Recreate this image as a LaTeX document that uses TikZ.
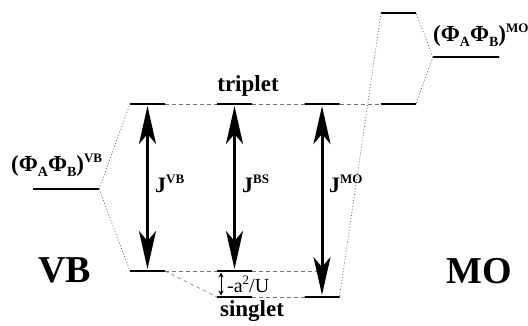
\documentclass[tikz,border=0pt]{standalone}
\usepackage{fontspec}
\setmainfont{Liberation Serif}
\usetikzlibrary{arrows.meta,positioning,calc}

\newcommand{\upidx}[1]{\raisebox{0.8ex}{\fontsize{13}{13}\selectfont #1}}
\newcommand{\dnidx}[1]{\raisebox{-0.5ex}{\fontsize{14}{14}\selectfont #1}}

\begin{document}
\begin{tikzpicture}[
    x=1pt, y=-1pt,
    font=\bfseries,
    lvl/.style={draw, line width=2pt, minimum width=35pt, minimum height=0pt,
        inner sep=0pt, outer sep=0pt},
    dashln/.style={draw=black!55, line width=0.6pt, dash pattern=on 4pt off 3pt},
    dotln/.style={draw=black!60, line width=0.7pt, dash pattern=on 1pt off 2pt},
    jarrow/.style={line width=3pt,
        {Stealth[length=38pt,width=17pt,inset=10pt]}-{Stealth[length=38pt,width=17pt,inset=10pt]},
        shorten <=2pt, shorten >=2pt},
    smallarr/.style={line width=0.9pt,
        {Stealth[length=5pt,width=5pt]}-{Stealth[length=5pt,width=5pt]},
        shorten <=1.5pt, shorten >=1.5pt},
    lbl/.style={inner sep=0pt, anchor=base west},
]
\useasboundingbox (0,0) rectangle (528,325);

% energy levels
\node[lvl, minimum width=66pt] (phivb) at (66,189) {};
\node[lvl] (vbT) at (147.5,104) {};
\node[lvl] (vbS) at (147.5,271) {};
\node[lvl] (bsT) at (234.5,104) {};
\node[lvl] (bsSa) at (234.5,271) {};
\node[lvl] (bsSb) at (234.5,297) {};
\node[lvl] (moT) at (322,104) {};
\node[lvl] (moS) at (322,297) {};
\node[lvl] (moA) at (398.5,13) {};
\node[lvl] (moB) at (398.5,104) {};
\node[lvl, minimum width=66pt] (phimo) at (466,57) {};

% correlation lines
\draw[dashln] (vbT.east) -- (bsT.west);
\draw[dashln] (bsT.east) -- (moT.west);
\draw[dashln] (moT.east) -- (moB.west);
\draw[dashln] (vbS.east) -- (bsSa.west);
\draw[dashln] (bsSa.east) -- (bsSa.east -| moS);
\draw[dashln] (vbS.east) -- (bsSb.west);
\draw[dashln] (bsSb.east) -- (moS.west);
\draw[dotln] (phivb.east) -- (vbT.west);
\draw[dotln] (phivb.east) -- (vbS.west);
\draw[dotln] (phimo.west) -- (moA.east);
\draw[dotln] (phimo.west) -- (moB.east);
\draw[dotln] (moA.west) -- (moS.east);

% exchange couplings
\draw[jarrow] (vbT) -- (vbS);
\draw[jarrow] (bsT) -- (bsSa);
\draw[jarrow] (moT) -- (moS);
\draw[smallarr] ([xshift=4pt]bsSa.west) -- ([xshift=4pt]bsSb.west);

% labels
\node[lbl, font=\bfseries\fontsize{22}{22}\selectfont] (jvb) at (155,192) {J\upidx{VB}};
\node[lbl, font=\bfseries\fontsize{22}{22}\selectfont] (jbs) at (242,192) {J\upidx{BS}};
\node[lbl, font=\bfseries\fontsize{22}{22}\selectfont] (jmo) at (329,192) {J\upidx{MO}};
\node[lbl, font=\fontsize{20}{20}\selectfont] (gap) at (227,292) {-a\upidx{2}/U};
\node[anchor=base, inner sep=0pt, font=\bfseries\fontsize{23}{23}\selectfont] (trip) at (248,91) {triplet};
\node[anchor=base, inner sep=0pt, font=\bfseries\fontsize{23}{23}\selectfont] (sing) at (252,316) {singlet};
\node[lbl, font=\bfseries\fontsize{23}{23}\selectfont] (phivbl) at (11,171) {(Φ\dnidx{A}Φ\dnidx{B})\upidx{VB}};
\node[lbl, font=\bfseries\fontsize{23}{23}\selectfont] (phimol) at (433,41) {(Φ\dnidx{A}Φ\dnidx{B})\upidx{MO}};
\node[lbl, font=\bfseries\fontsize{38}{38}\selectfont] (vb) at (38,282) {VB};
\node[lbl, font=\bfseries\fontsize{38}{38}\selectfont] (mo) at (446,283) {MO};
\end{tikzpicture}
\end{document}
